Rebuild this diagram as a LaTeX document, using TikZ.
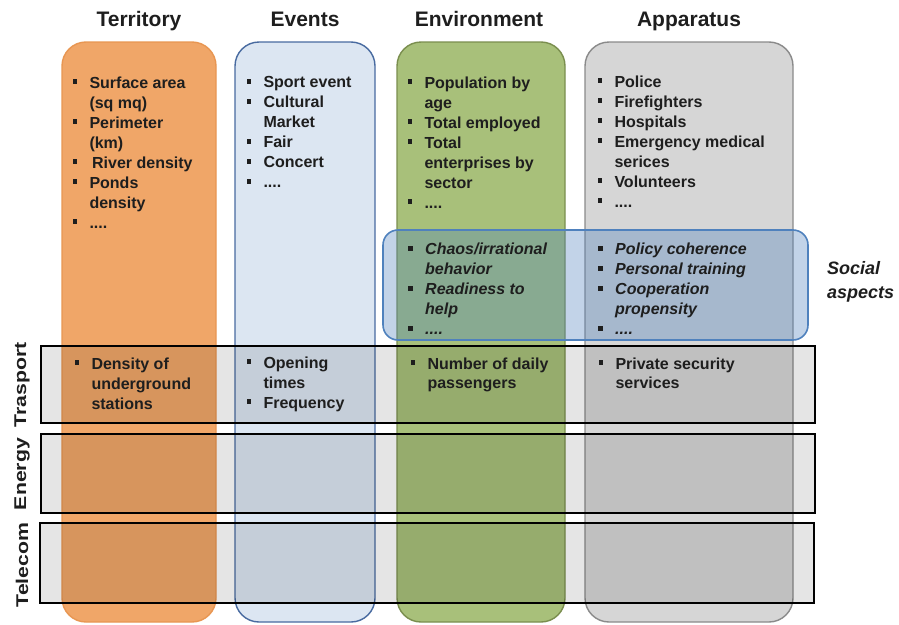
\documentclass[tikz,border=0pt]{standalone}
\usepackage{fontspec}
\setmainfont{Liberation Sans}
\usepackage{tikz}
\usetikzlibrary{positioning}

\definecolor{terrfill}{RGB}{240,166,104}
\definecolor{terrline}{RGB}{232,150,82}
\definecolor{evfill}{RGB}{220,230,242}
\definecolor{evline}{RGB}{72,106,160}
\definecolor{envfill}{RGB}{168,192,122}
\definecolor{envline}{RGB}{122,142,78}
\definecolor{appfill}{RGB}{214,214,214}
\definecolor{appline}{RGB}{138,138,138}
\definecolor{socblue}{RGB}{79,129,189}
\definecolor{txt}{RGB}{30,30,30}

\newcommand{\bul}{\rule[0.26em]{0.28em}{0.28em}}
\newcommand{\itm}[1]{\makebox[17pt][l]{\bul}#1}
\newcommand{\cnt}[1]{\hspace*{17pt}#1}

\tikzset{
  col/.style={draw, line width=1.4pt, rounded corners=24pt, minimum height=580pt},
  head/.style={font=\fontsize{21}{24}\selectfont\bfseries, text=txt, anchor=base},
  lst/.style={inner sep=0pt, align=left, text=txt, font=\fontsize{16}{20}\selectfont\bfseries},
  slst/.style={lst, font=\fontsize{16}{20}\selectfont\bfseries\itshape},
  layer/.style={draw=black, line width=1.6pt, fill=black, fill opacity=0.1, minimum width=774pt},
  side/.style={rotate=90, inner sep=0pt, text=txt, font=\fontsize{17}{20}\selectfont\bfseries}
}

\begin{document}
\begin{tikzpicture}[x=1pt,y=-1pt]
\useasboundingbox (0,0) rectangle (899,624);

% columns
\node[col, fill=terrfill, draw=terrline, minimum width=154pt] (terr) at (139,332) {};
\node[col, fill=evfill, draw=evline, minimum width=140pt] (ev) at (305,332) {};
\node[col, fill=envfill, draw=envline, minimum width=168pt] (env) at (481,332) {};
\node[col, fill=appfill, draw=appline, minimum width=208pt] (app) at (689,332) {};

\node[head] (terrh) at (139,26) {Territory};
\node[head] (evh) at (305,26) {Events};
\node[head] (envh) at (479,26) {Environment};
\node[head] (apph) at (689,26) {Apparatus};

% social aspects
\node[draw=socblue, line width=1.6pt, fill=socblue, fill opacity=0.35, rounded corners=15pt,
      minimum width=425pt, minimum height=110pt] (soc) at (595.5,285) {};
\node[right=18pt of soc, inner sep=0pt, align=left, text=txt,
      font=\fontsize{18}{24}\selectfont\bfseries\itshape, yshift=3pt] (socl) {Social\\aspects};

% rows
\node[layer, minimum height=77pt] (tra) at (428,384.5) {};
\node[layer, minimum height=79pt] (ener) at (428,473.5) {};
\node[layer, minimum height=80pt] (tele) at (427,563) {};

\node[side] (tral) at (22,385) {\scalebox{1.25}[1]{Trasport}};
\node[side] (enerl) at (22,474) {\scalebox{1.25}[1]{Energy}};
\node[side] (telel) at (22,565) {\scalebox{1.25}[1]{Telecom}};

% lists
\node[lst, below right=35pt and 11pt of terr.north west] (terrl) {%
\itm{Surface area}\\ \cnt{(sq mq)}\\ \itm{Perimeter}\\ \cnt{(km)}\\
\itm{\,River density}\\ \itm{Ponds}\\ \cnt{density}\\ \itm{....}};
\node[lst, below right=35pt and 12pt of ev.north west] (evl) {%
\itm{Sport event}\\ \itm{Cultural}\\ \cnt{Market}\\ \itm{Fair}\\ \itm{Concert}\\ \itm{....}};
\node[lst, below right=35pt and 11pt of env.north west] (envl) {%
\itm{Population by}\\ \cnt{age}\\ \itm{Total employed}\\ \itm{Total}\\
\cnt{enterprises by}\\ \cnt{sector}\\ \itm{....}};
\node[lst, below right=34pt and 13pt of app.north west] (appl) {%
\itm{Police}\\ \itm{Firefighters}\\ \itm{Hospitals}\\ \itm{Emergency medical}\\
\cnt{serices}\\ \itm{Volunteers}\\ \itm{....}};

\node[slst, anchor=north west] (envsl) at (408,243) {%
\itm{Chaos/irrational}\\ \cnt{behavior}\\ \itm{Readiness to}\\ \cnt{help}\\ \itm{....}};
\node[slst, anchor=north west] (appsl) at (598,243) {%
\itm{Policy coherence}\\ \itm{Personal training}\\ \itm{Cooperation}\\ \cnt{propensity}\\ \itm{....}};

\node[lst, below right=12pt and 13pt of terr.west |- tra.north] (terrt) {%
\itm{Density of}\\ \cnt{underground}\\ \cnt{stations}};
\node[lst, below right=11pt and 12pt of ev.west |- tra.north] (evt) {%
\itm{Opening}\\ \cnt{times}\\ \itm{Frequency}};
\node[lst, below right=12pt and 14pt of env.west |- tra.north] (envt) {%
\itm{Number of daily}\\ \cnt{passengers}};
\node[lst, below right=12pt and 14pt of app.west |- tra.north] (appt) {%
\itm{Private security}\\ \cnt{services}};
\end{tikzpicture}
\end{document}
